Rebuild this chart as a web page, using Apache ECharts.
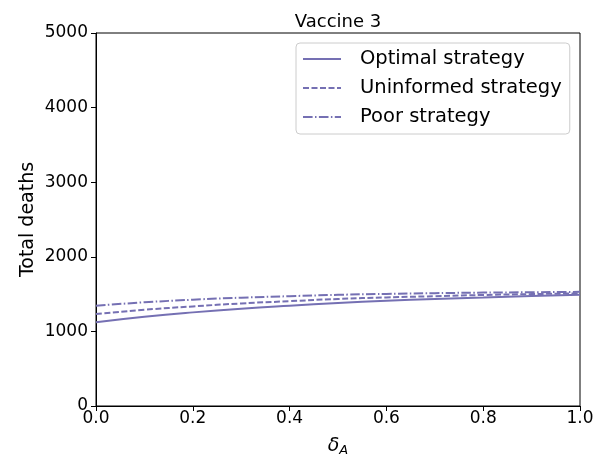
<!DOCTYPE html>
<html>
<head>
<meta charset="utf-8">
<script src="https://cdn.jsdelivr.net/npm/echarts@6/dist/echarts.min.js"></script>
<style>
  html, body { margin: 0; padding: 0; background: #fff; }
  #main { width: 600px; height: 461px; }
</style>
</head>
<body>
<div id="main"></div>
<script>
// data
var deltaA = [0.0, 0.1, 0.2, 0.3, 0.4, 0.5, 0.6, 0.7, 0.8, 0.9, 1.0];
var optimal = [1122, 1195, 1255, 1305, 1345, 1380, 1410, 1435, 1455, 1475, 1490];
var uninformed = [1233, 1290, 1335, 1375, 1405, 1435, 1455, 1472, 1488, 1500, 1510];
var poor = [1345, 1390, 1425, 1452, 1472, 1490, 1503, 1513, 1520, 1525, 1530];

var purple = '#7570b3';
var fontFam = 'DejaVu Sans';

function pairs(ys) {
	return deltaA.map(function (x, i) { return [x, ys[i]]; });
}

function mkSeries(name, ys, dash) {
	return {
		name: name,
		type: 'line',
		smooth: true,
		symbol: 'none',
		lineStyle: { color: purple, width: 2, type: dash },
		itemStyle: { color: purple },
		data: pairs(ys)
	};
}

var myChart = echarts.init(document.getElementById('main'));

var option = {
	animation: false,
	textStyle: { fontFamily: fontFam },
	title: {
		text: 'Vaccine 3',
		left: 333,
		top: 8,
		textAlign: 'center',
		textStyle: { fontSize: 18, fontWeight: 'normal', color: '#000', fontFamily: fontFam }
	},
	grid: {
		left: 96,
		right: 20,
		top: 33,
		bottom: 55,
		outerBoundsMode: 'none',
		containLabel: false,
		show: true,
		borderColor: '#000',
		borderWidth: 1
	},
	legend: {
		orient: 'vertical',
		left: 296,
		top: 43,
		itemWidth: 38,
		itemHeight: 14,
		itemGap: 9,
		padding: [6, 8, 7, 6],
		borderColor: '#cccccc',
		borderWidth: 1,
		borderRadius: 4,
		itemStyle: { opacity: 0 },
		textStyle: { fontSize: 19.5, color: '#000', fontFamily: fontFam, padding: [0, 0, 0, 14] },
		data: ['Optimal strategy', 'Uninformed strategy', 'Poor strategy']
	},
	xAxis: {
		type: 'value',
		min: 0,
		max: 1,
		interval: 0.2,
		name: '{d|δ}{s|A}',
		nameLocation: 'middle',
		nameGap: 29,
		nameTextStyle: {
			rich: {
				d: { fontSize: 19, fontStyle: 'italic', color: '#000', fontFamily: fontFam },
				s: { fontSize: 13, fontStyle: 'italic', color: '#000', fontFamily: fontFam, verticalAlign: 'bottom', padding: [9, 0, 0, 0] }
			}
		},
		axisLine: { show: true, lineStyle: { color: '#000', width: 1 } },
		axisTick: { show: true, inside: false, length: 5, lineStyle: { color: '#000' } },
		axisLabel: {
			fontSize: 17,
			color: '#000',
			margin: 4,
			formatter: function (v) { return v.toFixed(1); }
		},
		splitLine: { show: false }
	},
	yAxis: {
		type: 'value',
		min: 0,
		max: 5000,
		interval: 1000,
		name: 'Total deaths',
		nameLocation: 'middle',
		nameMoveOverlap: false,
		nameGap: 58,
		nameTextStyle: { fontSize: 19, color: '#000', fontFamily: fontFam },
		axisLine: { show: true, lineStyle: { color: '#000', width: 1 } },
		axisTick: { show: true, inside: false, length: 5, lineStyle: { color: '#000' } },
		axisLabel: { fontSize: 17, color: '#000', margin: 8, formatter: function (v) { return String(v); } },
		splitLine: { show: false }
	},
	series: [
		mkSeries('Optimal strategy', optimal, 'solid'),
		mkSeries('Uninformed strategy', uninformed, [6, 2.5]),
		mkSeries('Poor strategy', poor, [9.6, 2.4, 1.5, 2.4])
	]
};

myChart.setOption(option);
window.addEventListener('resize', function () {
	myChart.resize();
});
</script>
</body>
</html>
